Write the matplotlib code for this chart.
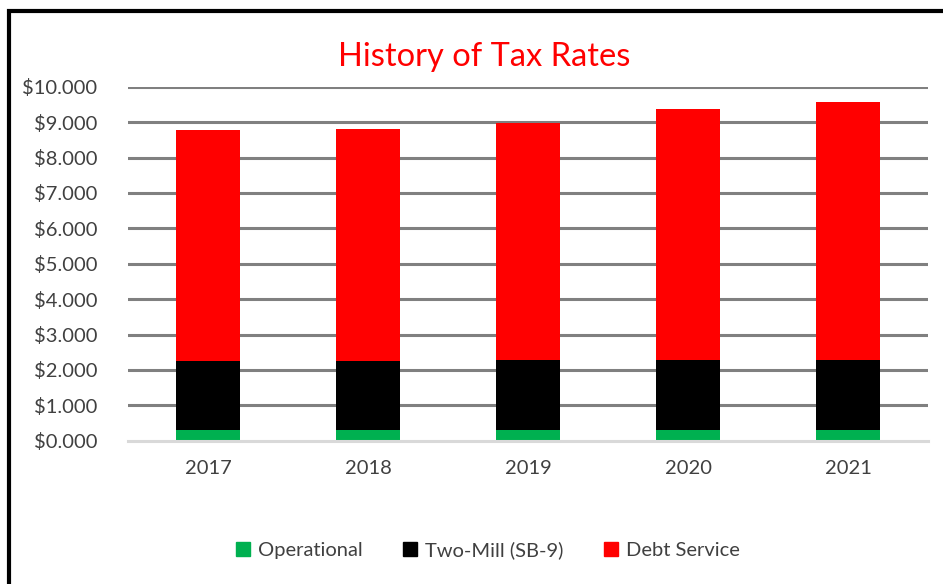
import numpy as np
import matplotlib
matplotlib.use('Agg')
import matplotlib.pyplot as plt
from matplotlib.patches import Rectangle, Patch

plt.rcParams['font.family'] = ['Lato', 'DejaVu Sans']

years = ['2017', '2018', '2019', '2020', '2021']
operational = [0.30, 0.30, 0.30, 0.30, 0.30]
two_mill = [1.94, 1.95, 1.99, 1.99, 1.99]
debt_service = [6.54, 6.55, 6.69, 7.09, 7.27]
yticks = np.arange(0, 11, 1)

series = [('Operational', operational, '#00b050'),
          ('Two-Mill (SB-9)', two_mill, '#000000'),
          ('Debt Service', debt_service, '#ff0000')]

fig = plt.figure(figsize=(9.43, 5.84), dpi=100)
ax = fig.add_axes([128 / 943, 1 - 440.7 / 584, 800 / 943, 354 / 584])

x = np.arange(len(years))
bottom = np.zeros(len(years))
for name, vals, col in series:
    ax.bar(x, vals, 0.4, bottom=bottom, color=col, label=name, zorder=3)
    bottom += np.array(vals)

ax.set_xlim(-0.5, len(years) - 0.5)
ax.set_ylim(0, 10)
ax.set_yticks(yticks)
ax.set_yticklabels(['${:.3f}'.format(v) for v in yticks])
ax.set_xticks(x)
ax.set_xticklabels(years)
ax.tick_params(axis='both', length=0, labelsize=14.5, colors='#404040')
ax.tick_params(axis='y', pad=22)
ax.tick_params(axis='x', pad=14)
for v in yticks[1:]:
    ax.axhline(v, color='#808080', lw=2.2, zorder=1)
for s in ['top', 'right', 'left']:
    ax.spines[s].set_visible(False)
ax.spines['bottom'].set_color('#d9d9d9')
ax.spines['bottom'].set_linewidth(2.2)
ax.spines['bottom'].set_zorder(4)

fig.text(484 / 943, 1 - 57 / 584, 'History of Tax Rates', color='#ff0000',
         fontsize=23.5, ha='center', va='center')

handles = [Patch(color=col, label=name) for name, vals, col in series]
fig.legend(handles=handles, loc='center', bbox_to_anchor=(488 / 943, 1 - 550 / 584),
           ncol=3, frameon=False, fontsize=14.5, handlelength=0.7, handleheight=0.7,
           handletextpad=0.4, columnspacing=2.0, labelcolor='#404040')

fig.patches.append(Rectangle((9 / 943, -0.1), 1.2, 1.1 - 11 / 584, transform=fig.transFigure,
                             fill=False, edgecolor='black', lw=3, figure=fig))

fig.savefig('out.png', dpi=100)
